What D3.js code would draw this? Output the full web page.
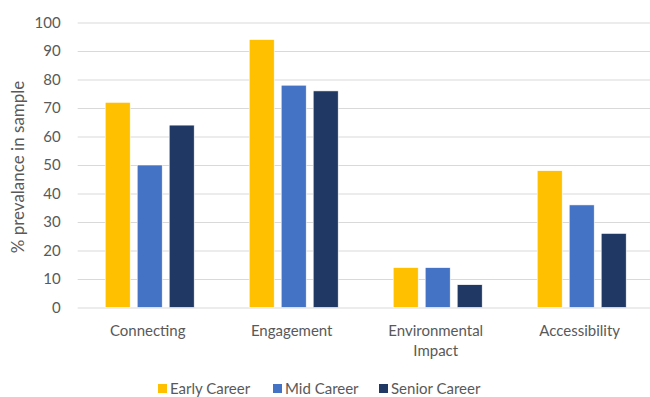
<!DOCTYPE html>
<html>
<head>
<meta charset="utf-8">
<script src="https://cdn.jsdelivr.net/npm/d3@7"></script>
<style>
  html, body { margin: 0; padding: 0; background: #fff; }
  svg { display: block; font-family: Lato, "Open Sans", sans-serif; }
</style>
</head>
<body>
<svg id="chart" width="650" height="397"></svg>
<script>
const categories = ["Connecting", "Engagement", "Environmental Impact", "Accessibility"];
const seriesNames = ["Early Career", "Mid Career", "Senior Career"];
const earlyCareer = [72, 94, 14, 48];
const midCareer = [50, 78, 14, 36];
const seniorCareer = [64, 76, 8, 26];
const yTicks = [0, 10, 20, 30, 40, 50, 60, 70, 80, 90, 100];
const colors = ["#FFC000", "#4472C4", "#203864"];

const seriesValues = [earlyCareer, midCareer, seniorCareer];
const svg = d3.select("#chart");

const mLeft = 77.7, mRight = 653.7, mTop = 22.5, mBottom = 307.5;

const y = d3.scaleLinear().domain([0, 100]).range([mBottom, mTop]);
const x0 = d3.scaleBand().domain(categories).range([mLeft, mRight])
  .paddingInner(0.382).paddingOuter(0.191);
const x1 = d3.scaleBand().domain(seriesNames).range([0, x0.bandwidth()])
  .paddingInner(0.21875).paddingOuter(0);
const color = d3.scaleOrdinal().domain(seriesNames).range(colors);

// gridlines
const yAxis = d3.axisLeft(y).tickValues(yTicks).tickSize(-(650 - mLeft)).tickPadding(17);
const gy = svg.append("g").attr("transform", `translate(${mLeft},0)`).call(yAxis);
gy.select(".domain").remove();
gy.selectAll(".tick line").attr("stroke", "#d9d9d9").attr("stroke-width", 1);
gy.selectAll(".tick text").attr("fill", "#595959").attr("font-size", 15)
  .attr("font-family", "Lato, 'Open Sans', sans-serif");

// bars
const groups = svg.append("g").selectAll("g").data(categories).join("g")
  .attr("transform", d => `translate(${x0(d)},0)`);
groups.selectAll("rect")
  .data((c, ci) => seriesNames.map((s, si) => ({ s, v: seriesValues[si][ci] })))
  .join("rect")
  .attr("x", d => x1(d.s))
  .attr("width", x1.bandwidth())
  .attr("y", d => y(d.v))
  .attr("height", d => y(0) - y(d.v))
  .attr("fill", d => color(d.s))
  .attr("stroke", "#ffffff").attr("stroke-width", 0.6);

// x axis labels
const xAxis = d3.axisBottom(x0).tickSize(0).tickPadding(0);
const gx = svg.append("g").attr("transform", `translate(0,${mBottom})`).call(xAxis);
gx.select(".domain").remove();
gx.selectAll(".tick text").remove();
gx.selectAll(".tick").each(function(d) {
  const words = d === "Environmental Impact" ? ["Environmental", "Impact"] : [d];
  const t = d3.select(this).append("text")
    .attr("fill", "#595959").attr("font-size", 15)
    .attr("font-family", "Lato, 'Open Sans', sans-serif")
    .attr("text-anchor", "middle");
  words.forEach((w, i) => {
    t.append("tspan").attr("x", -2).attr("y", 28 + i * 20).text(w);
  });
});

// y axis title
svg.append("text")
  .attr("transform", `translate(24,167) rotate(-90)`)
  .attr("text-anchor", "middle")
  .attr("fill", "#595959").attr("font-size", 17)
  .text("% prevalance in sample");

// legend
const legendX = [158, 273, 379];
const lg = svg.append("g").selectAll("g").data(seriesNames).join("g")
  .attr("transform", (d, i) => `translate(${legendX[i]},384)`);
lg.append("rect").attr("width", 9).attr("height", 9).attr("fill", d => color(d));
lg.append("text").attr("x", 12).attr("y", 10)
  .attr("fill", "#595959").attr("font-size", 15).text(d => d);
</script>
</body>
</html>
